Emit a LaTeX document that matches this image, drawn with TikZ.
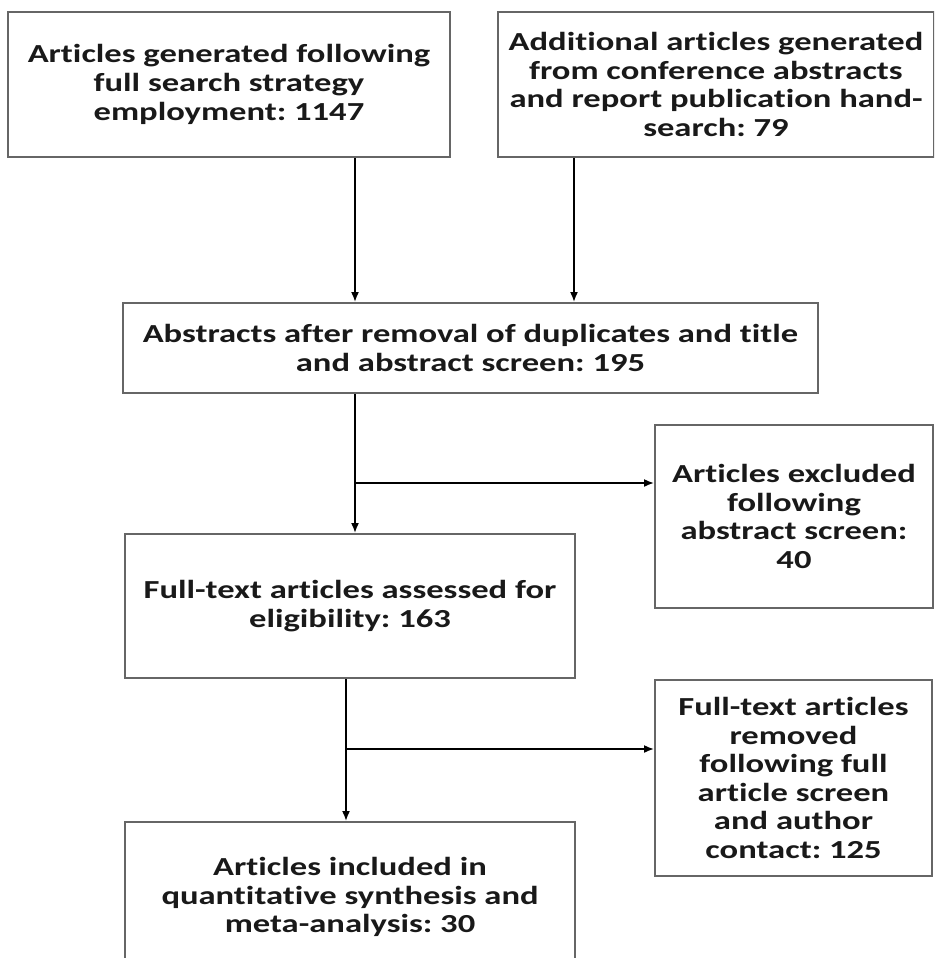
\documentclass[tikz,border=0pt]{standalone}
\usepackage{fontspec}
\setmainfont{Carlito}[FakeStretch=1.33, Ligatures=NoCommon]
\usetikzlibrary{arrows.meta}
\frenchspacing
\tikzset{
  box/.style={draw=black!60, line width=1pt, align=center, inner sep=0pt,
    text=black!90, font=\fontsize{13}{14.3}\selectfont\bfseries},
  arr/.style={line width=0.8pt, -{Latex[length=5pt,width=4pt]}}
}
\begin{document}
\begin{tikzpicture}[x=0.5pt,y=-0.5pt]
  \clip (0,0) rectangle (934,958);

  % columns and branch points of the arrows
  \coordinate (c1) at (355,0);
  \coordinate (c2) at (574,0);
  \coordinate (c3) at (346,0);
  \coordinate (b1) at (355,483);
  \coordinate (b2) at (346,749);

  % Draw the boxes
  \node[box, minimum width=221pt, minimum height=72.5pt] (search) at (229,84.5)
    {Articles generated following\\full search strategy\\employment: 1147};
  \node[box, minimum width=218pt, minimum height=72.5pt] (hand) at (716,84.5)
    {Additional articles generated\\from conference abstracts\\and report publication hand-\\search: 79};
  \node[box, minimum width=347.5pt, minimum height=45pt] (abstr) at (470.5,348)
    {Abstracts after removal of duplicates and title\\and abstract screen: 195};
  \node[box, minimum width=139pt, minimum height=91.5pt] (excl) at (794,516.5)
    {Articles excluded\\following\\abstract screen:\\40};
  \node[box, minimum width=225pt, minimum height=72pt] (full) at (350,606)
    {Full-text articles assessed for\\eligibility: 163};
  \node[box, minimum width=138.5pt, minimum height=98pt] (removed) at (793.5,778)
    {Full-text articles\\removed\\following full\\article screen\\and author\\contact: 125};
  \node[box, minimum width=225pt, minimum height=75pt] (incl) at (350,897)
    {Articles included in\\quantitative synthesis and\\meta-analysis: 30};

  % Draw the arrows
  \draw[arr] (search.south -| c1) -- (abstr.north -| c1);
  \draw[arr] (hand.south -| c2) -- (abstr.north -| c2);
  \draw[arr] (abstr.south -| c1) -- (full.north -| c1);
  \draw[arr] (b1) -- (excl.west |- b1);
  \draw[arr] (full.south -| c3) -- (incl.north -| c3);
  \draw[arr] (b2) -- (removed.west |- b2);
\end{tikzpicture}
\end{document}
